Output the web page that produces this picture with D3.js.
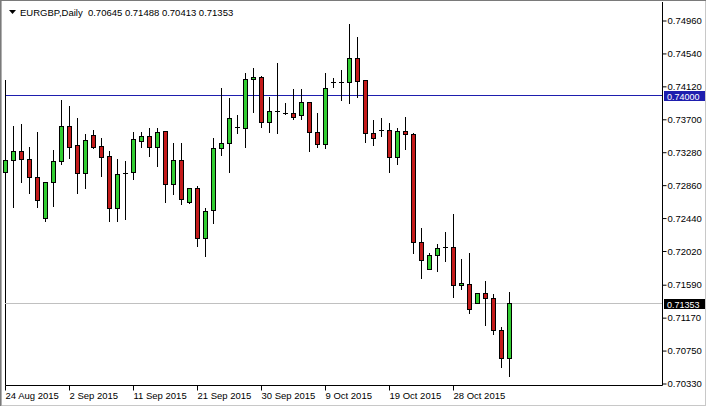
<!DOCTYPE html>
<html>
<head>
<meta charset="utf-8">
<script src="https://cdn.jsdelivr.net/npm/d3@7"></script>
<style>
  html, body { margin: 0; padding: 0; background: #fff; }
  svg { display: block; font-family: "Liberation Sans", Arial, sans-serif; }
</style>
</head>
<body>
<svg id="chart" width="706" height="406"></svg>
<script>
// ---- DATA ----
const symbolTitle = "EURGBP,Daily";
const dates = [
  "2015-08-24","2015-08-25","2015-08-26","2015-08-27","2015-08-28","2015-08-30","2015-08-31","2015-09-01",
  "2015-09-02","2015-09-03","2015-09-04","2015-09-06","2015-09-07","2015-09-08","2015-09-09","2015-09-10",
  "2015-09-11","2015-09-13","2015-09-14","2015-09-15","2015-09-16","2015-09-17","2015-09-18","2015-09-20",
  "2015-09-21","2015-09-22","2015-09-23","2015-09-24","2015-09-25","2015-09-27","2015-09-28","2015-09-29",
  "2015-09-30","2015-10-01","2015-10-02","2015-10-04","2015-10-05","2015-10-06","2015-10-07","2015-10-08",
  "2015-10-09","2015-10-11","2015-10-12","2015-10-13","2015-10-14","2015-10-15","2015-10-16","2015-10-18",
  "2015-10-19","2015-10-20","2015-10-21","2015-10-22","2015-10-23","2015-10-25","2015-10-26","2015-10-27",
  "2015-10-28","2015-10-29","2015-10-30","2015-11-01","2015-11-02","2015-11-03","2015-11-04","2015-11-05"
];
const opens = [
  0.73021,0.73174,0.73289,0.73187,0.72958,0.72435,0.72894,0.73162,
  0.73608,0.73366,0.73008,0.73493,0.73353,0.73225,0.72562,0.73008,
  0.73021,0.73417,0.73480,0.73340,0.73544,0.72868,0.73174,0.72639,
  0.72817,0.72179,0.72537,0.73327,0.73391,0.73595,0.73582,0.74208,
  0.74233,0.73659,0.73799,0.73774,0.73774,0.73748,0.73914,0.73531,
  0.73378,0.74169,0.74169,0.74169,0.74475,0.74195,0.73519,0.73557,
  0.73557,0.73213,0.73544,0.73506,0.72128,0.71784,0.71963,0.72065,
  0.72065,0.71580,0.71593,0.71350,0.71478,0.71414,0.71006,0.70645
];
const highs = [
  0.74195,0.73608,0.73633,0.73340,0.73531,0.72894,0.73302,0.73940,
  0.73863,0.73710,0.73506,0.73557,0.73455,0.73289,0.73187,0.73162,
  0.73531,0.73531,0.73582,0.73582,0.73550,0.73391,0.73391,0.72817,
  0.72843,0.72562,0.73455,0.74093,0.73965,0.73748,0.74284,0.74348,
  0.74240,0.73978,0.74412,0.73901,0.74080,0.74080,0.73920,0.73774,
  0.74284,0.74220,0.74322,0.74909,0.74743,0.74200,0.73685,0.73710,
  0.73646,0.73582,0.73723,0.73519,0.72307,0.71988,0.72103,0.72256,
  0.72486,0.71912,0.71988,0.71478,0.71631,0.71465,0.71044,0.71488
];
const lows = [
  0.72894,0.72575,0.72894,0.72753,0.72575,0.72396,0.72588,0.73123,
  0.73200,0.72753,0.72817,0.73327,0.72970,0.72396,0.72396,0.72422,
  0.72932,0.73340,0.73225,0.73098,0.72639,0.72741,0.72613,0.72626,
  0.72077,0.71950,0.72371,0.73238,0.73021,0.73519,0.73340,0.73787,
  0.73595,0.73531,0.73519,0.73761,0.73697,0.73697,0.73289,0.73340,
  0.73327,0.74105,0.73940,0.73901,0.73978,0.73404,0.73366,0.73480,
  0.73021,0.73123,0.73315,0.71988,0.71669,0.71780,0.71759,0.71886,
  0.71427,0.71529,0.71223,0.71345,0.71070,0.70955,0.70534,0.70413
];
const closes = [
  0.73174,0.73289,0.73187,0.72958,0.72664,0.72894,0.73162,0.73608,
  0.73340,0.73008,0.73429,0.73340,0.73213,0.72562,0.72996,0.73005,
  0.73442,0.73480,0.73340,0.73531,0.72868,0.73174,0.72677,0.72817,
  0.72179,0.72524,0.73327,0.73391,0.73710,0.73590,0.74208,0.74233,
  0.73659,0.73799,0.73795,0.73770,0.73723,0.73914,0.73531,0.73378,
  0.74093,0.74165,0.74172,0.74475,0.74182,0.73519,0.73455,0.73553,
  0.73213,0.73544,0.73506,0.72128,0.71899,0.71963,0.72052,0.72062,
  0.71580,0.71605,0.71274,0.71478,0.71414,0.71006,0.70649,0.71353
];
const priceTicks = [0.74960,0.74540,0.74120,0.73700,0.73280,0.72860,0.72440,0.72020,0.71590,0.71170,0.70750,0.70330];
const levelLine = 0.74000;
const bidPrice = 0.71353;
const labelEvery = 8;

// ---- LAYOUT ----
const svg = d3.select("#chart");
const W = 706, H = 406;
const plotLeft = 5, plotRight = 662, plotBottom = 385;
const barStep = 8;

const x = d3.scalePoint().domain(dates).range([5.3, 5.3 + barStep * (dates.length - 1)]);
const y = d3.scaleLinear().domain([0.70330, 0.74960]).range([383, 20]);

const bull = "#32cd32", bear = "#c41a1a";
const levelColor = "#1e1eae";

// outer window border
svg.append("rect").attr("x", 0.5).attr("y", 0.5).attr("width", W - 1).attr("height", H - 1)
  .attr("fill", "none").attr("stroke", "#c8c8c8");
svg.append("line").attr("x1", 0.5).attr("x2", 0.5).attr("y1", 0).attr("y2", H).attr("stroke", "#7a7a7a");
svg.append("line").attr("x1", 1.5).attr("x2", 1.5).attr("y1", 0).attr("y2", H).attr("stroke", "#b0b0b0");
svg.append("line").attr("x1", 0).attr("x2", W).attr("y1", 0.5).attr("y2", 0.5).attr("stroke", "#7a7a7a");

// frame lines
svg.append("line").attr("x1", plotRight + 0.5).attr("x2", plotRight + 0.5).attr("y1", 2).attr("y2", plotBottom + 0.5)
  .attr("stroke", "#000");
svg.append("line").attr("x1", plotLeft + 0.5).attr("x2", plotRight + 0.5).attr("y1", plotBottom + 0.5).attr("y2", plotBottom + 0.5)
  .attr("stroke", "#000");
svg.append("line").attr("x1", plotLeft + 0.5).attr("x2", plotLeft + 0.5).attr("y1", Math.round(y(highs[0]))).attr("y2", plotBottom + 0.5)
  .attr("stroke", "#000");

// horizontal level line (blue) and bid line (gray)
const yLevel = Math.round(y(levelLine)) + 0.5;
svg.append("line").attr("x1", plotLeft).attr("x2", plotRight).attr("y1", yLevel).attr("y2", yLevel)
  .attr("stroke", levelColor);
const yBid = Math.round(y(bidPrice)) + 0.5;
svg.append("line").attr("x1", plotLeft).attr("x2", plotRight).attr("y1", yBid).attr("y2", yBid)
  .attr("stroke", "#c0c0c0");

// candles
const candles = dates.map((d, i) => ({ d, o: opens[i], h: highs[i], l: lows[i], c: closes[i] }));
const g = svg.append("g");
candles.forEach(k => {
  const cx = Math.round(x(k.d));
  const yh = Math.round(y(k.h)), yl = Math.round(y(k.l));
  const yTop = Math.round(y(Math.max(k.o, k.c))), yBot = Math.round(y(Math.min(k.o, k.c)));
  g.append("line").attr("x1", cx + 0.5).attr("x2", cx + 0.5).attr("y1", yh).attr("y2", yl + 1)
    .attr("stroke", "#000").attr("stroke-width", 1);
  if (yBot - yTop < 1) {
    g.append("line").attr("x1", cx - 2).attr("x2", cx + 3).attr("y1", yTop + 0.5).attr("y2", yTop + 0.5)
      .attr("stroke", "#000");
  } else {
    g.append("rect").attr("x", cx - 1.5).attr("y", yTop + 0.5).attr("width", 4).attr("height", yBot - yTop)
      .attr("fill", k.c >= k.o ? bull : bear).attr("stroke", "#000").attr("stroke-width", 1);
  }
});

// right price axis
const yAxis = d3.axisRight(y).tickValues(priceTicks).tickFormat(d3.format(".5f")).tickSize(4).tickSizeOuter(0);
const ya = svg.append("g").attr("transform", `translate(${plotRight + 0.5},0.5)`).call(yAxis);
ya.select(".domain").remove();
ya.selectAll("text").attr("x", 5).attr("font-size", "9.5px").attr("font-family", "Liberation Sans, Arial, sans-serif")
  .attr("fill", "#000");
ya.selectAll("line").attr("stroke", "#000");

// price boxes
function priceBox(p, bg) {
  const yy = Math.round(y(p));
  svg.append("rect").attr("x", 664).attr("y", yy - 4).attr("width", 41).attr("height", 10).attr("fill", bg);
  svg.append("text").attr("x", 667).attr("y", yy + 1.5).attr("dy", "0.35em").attr("font-size", "9px")
    .attr("fill", "#fff").text(d3.format(".5f")(p));
}
priceBox(levelLine, levelColor);
priceBox(bidPrice, "#000");

// bottom time axis
const fmt = d3.timeFormat("%-d %b %Y");
const parse = d3.timeParse("%Y-%m-%d");
const labelDates = dates.filter((d, i) => i % labelEvery === 0);
const xAxis = d3.axisBottom(x).tickValues(labelDates).tickFormat(d => fmt(parse(d))).tickSize(5).tickSizeOuter(0);
const xa = svg.append("g").attr("transform", `translate(0.5,${plotBottom + 0.5})`).call(xAxis);
xa.select(".domain").remove();
xa.selectAll(".tick").attr("transform", d => `translate(${Math.round(x(d))},0)`);
xa.selectAll("line").attr("stroke", "#000");
xa.selectAll("text").attr("text-anchor", "start").attr("x", 0).attr("y", 7).attr("dy", "0.71em")
  .attr("font-size", "9.5px").attr("font-family", "Liberation Sans, Arial, sans-serif").attr("fill", "#000");

// header
svg.append("path").attr("d", "M9,10 L16,10 L12.5,14 Z").attr("fill", "#000");
const last = candles[candles.length - 1];
svg.append("text").attr("x", 20).attr("y", 16).attr("font-size", "9.5px").attr("fill", "#000")
  .attr("xml:space", "preserve")
  .text(`${symbolTitle}  ${d3.format(".5f")(last.o)} ${d3.format(".5f")(last.h)} ${d3.format(".5f")(last.l)} ${d3.format(".5f")(last.c)}`);
</script>
</body>
</html>
